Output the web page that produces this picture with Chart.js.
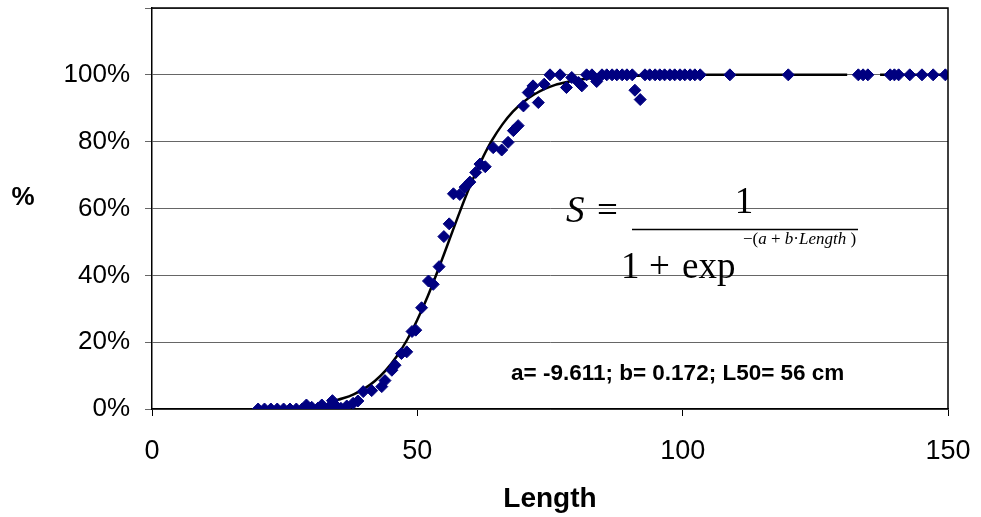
<!DOCTYPE html>
<html>
<head>
<meta charset="utf-8">
<script src="https://cdn.jsdelivr.net/npm/chart.js@4"></script>
<style>
html,body{margin:0;padding:0;background:#fff;}
#wrap{position:relative;width:981px;height:517px;}
</style>
</head>
<body>
<div id="wrap"><canvas id="c" width="981" height="517"></canvas></div>
<script>
// Observed proportion (%) by length (cm)
const lengthCm = [20,21.2,22.4,23.6,24.8,26,27.2,28.3,29.1,30.1,31.3,32.0,33.2,34.0,34.8,35.6,36.7,37.9,38.8,39.8,41.4,43.3,43.9,45.2,45.8,47.0,48.0,49.0,49.7,50.8,52.1,53.0,54.1,55.0,56.0,56.8,58.0,59.0,59.9,61.0,61.8,62.8,64.3,65.9,67.1,68.1,69.0,70.0,70.9,71.8,72.8,73.9,75.0,76.9,78.1,79.1,80.4,81.0,81.9,82.9,83.8,84.8,85.7,86.7,87.6,88.6,89.5,90.5,91.0,92.0,92.9,93.8,94.8,95.7,96.6,97.6,98.5,99.5,100.4,101.4,102.3,103.3,108.9,119.9,133.1,134.0,134.9,139.1,139.9,140.7,142.8,145.1,147.2,149.5];
const observedPct = [0,0,0,0,0,0,0,0,1.2,0.5,0.3,1.2,0.3,2.5,0.7,0.2,0.9,1.7,2.4,5.2,5.5,6.7,8.5,11.6,13.1,16.6,17.1,23.2,23.6,30.3,38.3,37.3,42.6,51.6,55.4,64.4,64.2,66.4,67.9,70.8,73.3,72.5,78.2,77.5,79.8,83.3,84.8,90.7,94.7,96.7,91.7,97.2,100,100,96.2,99.2,97.7,96.7,100,100,98.0,100,100,100,100,100,100,100,95.4,92.6,100,100,100,100,100,100,100,100,100,100,100,100,100,100,100,100,100,100,100,100,100,100,100,100];
// Fitted ogive (null = break in the line)
const curveLength = [34,36,38,40,42,44,46,48,50,52,54,56,58,60,62,64,66,68,70,72,74,76,78,80,84,88,95,105,120,131,134,137.2,142,149.5];
const curvePct = [2.3,3.2,4.4,6.1,8.4,11.5,15.5,20.5,26.7,33.9,42.0,50.5,59.0,67.0,74.1,80.2,85.1,89.0,91.9,94.1,95.8,97.0,97.8,98.4,99.2,99.6,99.9,100,100,100,null,100,100,100];
// Axis ticks
const xTicks = [0,50,100,150];
const yTicks = [0,20,40,60,80,100,120];
const yLabelShown = ['0%','20%','40%','60%','80%','100%',''];

const FONT = '"Liberation Sans", Arial, sans-serif';
const SERIF = '"Liberation Serif", "Times New Roman", serif';

const overlay = {
  id: 'overlay',
  afterDraw(chart) {
    const ctx = chart.ctx, a = chart.chartArea;
    ctx.save();
    // plot frame (top/right)
    ctx.strokeStyle = '#000';
    ctx.lineWidth = 1.5;
    ctx.beginPath();
    ctx.moveTo(a.left, a.top); ctx.lineTo(a.right, a.top); ctx.lineTo(a.right, a.bottom);
    ctx.stroke();
    ctx.fillStyle = '#000';
    // y axis title
    ctx.font = 'bold 26px ' + FONT;
    ctx.textAlign = 'center'; ctx.textBaseline = 'middle';
    ctx.fillText('%', 23, 198);
    // parameters
    ctx.font = 'bold 22.5px ' + FONT;
    ctx.textAlign = 'left'; ctx.textBaseline = 'middle';
    ctx.fillText('a= -9.611; b= 0.172; L50= 56 cm', 511, 374);
    // formula
    ctx.textBaseline = 'alphabetic';
    const it = 'italic 37px ' + SERIF, rg = '37px ' + SERIF;
    ctx.font = it; ctx.fillText('S', 566, 222);
    ctx.font = rg; ctx.fillText('=', 597, 222);
    ctx.textAlign = 'center'; ctx.fillText('1', 744, 213);
    ctx.textAlign = 'left';
    ctx.lineWidth = 1.3;
    ctx.beginPath(); ctx.moveTo(632, 229.5); ctx.lineTo(858, 229.5); ctx.stroke();
    ctx.fillText('1', 621, 278);
    ctx.fillText('+', 649, 278);
    ctx.fillText('exp', 682, 278);
    const pieces = [['\u2212(', '17px '], ['a', 'italic 17px '], [' + ', '17px '], ['b', 'italic 17px '], ['\u00b7', '17px '], ['Length', 'italic 17px '], [' )', '17px ']];
    let x = 743;
    for (const [t, f] of pieces) {
      ctx.font = f + SERIF;
      ctx.fillText(t, x, 244);
      x += ctx.measureText(t).width;
    }
    ctx.restore();
  }
};

new Chart(document.getElementById('c'), {
  data: {
    datasets: [
      {
        type: 'scatter',
        label: 'Observed',
        data: lengthCm.map((v, i) => ({x: v, y: observedPct[i]})),
        pointStyle: 'rectRot',
        pointRadius: 6,
        pointHoverRadius: 6,
        backgroundColor: '#000080',
        borderColor: '#000080',
        borderWidth: 1,
        order: 0
      },
      {
        type: 'line',
        label: 'Fitted',
        data: curveLength.map((v, i) => ({x: v, y: curvePct[i]})),
        borderColor: '#000',
        borderWidth: 2.5,
        pointRadius: 0,
        tension: 0.3,
        spanGaps: false,
        fill: false,
        order: 1
      }
    ]
  },
  options: {
    responsive: false,
    animation: false,
    events: [],
    layout: { padding: { top: 8, right: 33, left: 0, bottom: 0 } },
    plugins: { legend: { display: false }, tooltip: { enabled: false } },
    scales: {
      x: {
        type: 'linear',
        min: 0, max: 150,
        afterBuildTicks: s => { s.ticks = xTicks.map(v => ({value: v})); },
        afterFit: s => { s.height = 108; s.paddingLeft = 0; s.paddingRight = 0; },
        grid: { drawOnChartArea: false, drawTicks: true, tickLength: 7, color: '#000', lineWidth: 1 },
        border: { color: '#000', width: 1.5 },
        ticks: { font: { family: FONT, size: 27 }, color: '#000', padding: 19, maxRotation: 0 },
        title: { display: true, text: 'Length', font: { family: FONT, size: 28, weight: 'bold', lineHeight: 1.2 }, color: '#000', padding: { top: 2, bottom: 1 } }
      },
      y: {
        type: 'linear',
        min: 0, max: 120,
        afterBuildTicks: s => { s.ticks = yTicks.map(v => ({value: v})); },
        afterFit: s => { s.width = 152; s.paddingTop = 0; s.paddingBottom = 0; },
        grid: { color: '#666', lineWidth: 1, drawTicks: true, tickLength: 7, tickColor: '#666' },
        border: { color: '#000', width: 1.5 },
        ticks: {
          font: { family: FONT, size: 26 }, color: '#000', padding: 15,
          callback: (v) => { const i = yTicks.indexOf(v); return i >= 0 ? yLabelShown[i] : ''; }
        }
      }
    }
  },
  plugins: [overlay]
});
</script>
</body>
</html>
